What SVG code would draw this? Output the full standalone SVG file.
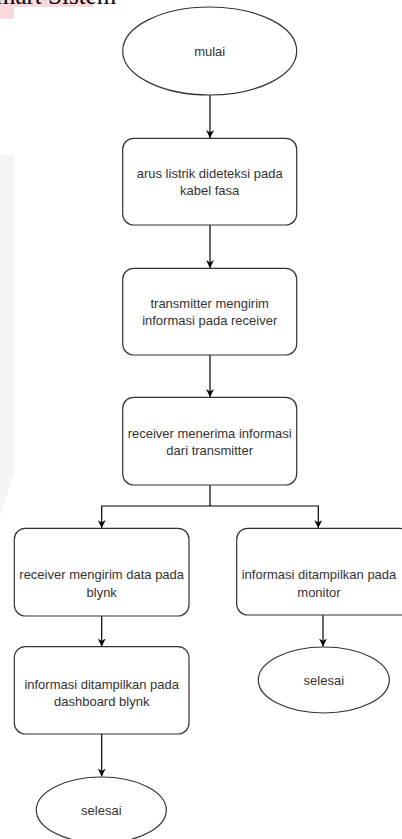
<svg xmlns="http://www.w3.org/2000/svg" width="402" height="839" viewBox="0 0 402 839">
<defs>
<marker id="ah" viewBox="0 0 10 10" refX="10" refY="5" markerWidth="8" markerHeight="8" markerUnits="userSpaceOnUse" orient="auto">
<path d="M0,0 L10,5 L0,10 L3,5 Z" fill="#000"/>
</marker>
</defs>
<style>
.shape{fill:#fff;stroke:#333;stroke-width:1.2}
.t{font-family:"Liberation Sans",Arial,sans-serif;font-size:13px;fill:#333;text-anchor:middle}
.c{fill:none;stroke:#000;stroke-width:1.2}
.ca{fill:none;stroke:#000;stroke-width:1.2;marker-end:url(#ah)}
</style>
<rect width="402" height="839" fill="#fff"/>
<g id="header">
<rect x="0" y="0" width="93" height="7" fill="#fdd9dc"/>
<rect x="0" y="7" width="14" height="12" fill="#fdd9dc"/>
<polygon points="0,155 14,155 14,472 0,516" fill="#f4f4f4"/>
<text x="-4" y="4" font-family="'Liberation Serif','Times New Roman',serif" font-size="25" fill="#000">mart Sistem</text>
</g>
<g id="connectors">
<line class="ca" x1="210" y1="95" x2="210" y2="138"/>
<line class="ca" x1="210" y1="225" x2="210" y2="268"/>
<line class="ca" x1="210" y1="355" x2="210" y2="397"/>
<polyline class="c" points="210,485 210,506"/>
<polyline class="ca" points="210,506 101.7,506 101.7,528"/>
<polyline class="ca" points="210,506 318.3,506 318.3,528"/>
<line class="ca" x1="101.7" y1="616" x2="101.7" y2="646.5"/>
<line class="ca" x1="323" y1="615" x2="323" y2="646.5"/>
<line class="ca" x1="101.7" y1="734" x2="101.7" y2="776.5"/>
</g>
<g id="mulai">
<ellipse class="shape" cx="209.7" cy="51" rx="87" ry="44"/>
<text class="t" x="209.7" y="56">mulai</text>
</g>
<g id="deteksi">
<rect class="shape" x="122.7" y="138.3" width="174" height="86.7" rx="11"/>
<text class="t" x="209.7" y="177.5">arus listrik dideteksi pada</text>
<text class="t" x="209.7" y="195">kabel fasa</text>
</g>
<g id="transmitter">
<rect class="shape" x="122.7" y="268.3" width="174" height="86.7" rx="11"/>
<text class="t" x="209.7" y="307.5">transmitter mengirim</text>
<text class="t" x="209.7" y="324.5">informasi pada receiver</text>
</g>
<g id="receiver">
<rect class="shape" x="122.7" y="397.3" width="174" height="87.7" rx="11"/>
<text class="t" x="209.7" y="437.5">receiver menerima informasi</text>
<text class="t" x="209.7" y="455">dari transmitter</text>
</g>
<g id="kirim-blynk">
<rect class="shape" x="14.3" y="528.3" width="174.7" height="87.7" rx="11"/>
<text class="t" x="101.7" y="578.5">receiver mengirim data pada</text>
<text class="t" x="101.7" y="596.5">blynk</text>
</g>
<g id="monitor">
<rect class="shape" x="236.7" y="528.3" width="174" height="86.7" rx="11"/>
<text class="t" x="319" y="578.5">informasi ditampilkan pada</text>
<text class="t" x="319" y="596.5">monitor</text>
</g>
<g id="dashboard">
<rect class="shape" x="14.3" y="646.7" width="174.7" height="87.3" rx="11"/>
<text class="t" x="101.7" y="689">informasi ditampilkan pada</text>
<text class="t" x="101.7" y="705.5">dashboard blynk</text>
</g>
<g id="selesai-kanan">
<ellipse class="shape" cx="323.8" cy="680" rx="65.5" ry="33"/>
<text class="t" x="323.8" y="684.5">selesai</text>
</g>
<g id="selesai-kiri">
<ellipse class="shape" cx="101.3" cy="810" rx="65" ry="33"/>
<text class="t" x="101.3" y="814.5">selesai</text>
</g>
</svg>
